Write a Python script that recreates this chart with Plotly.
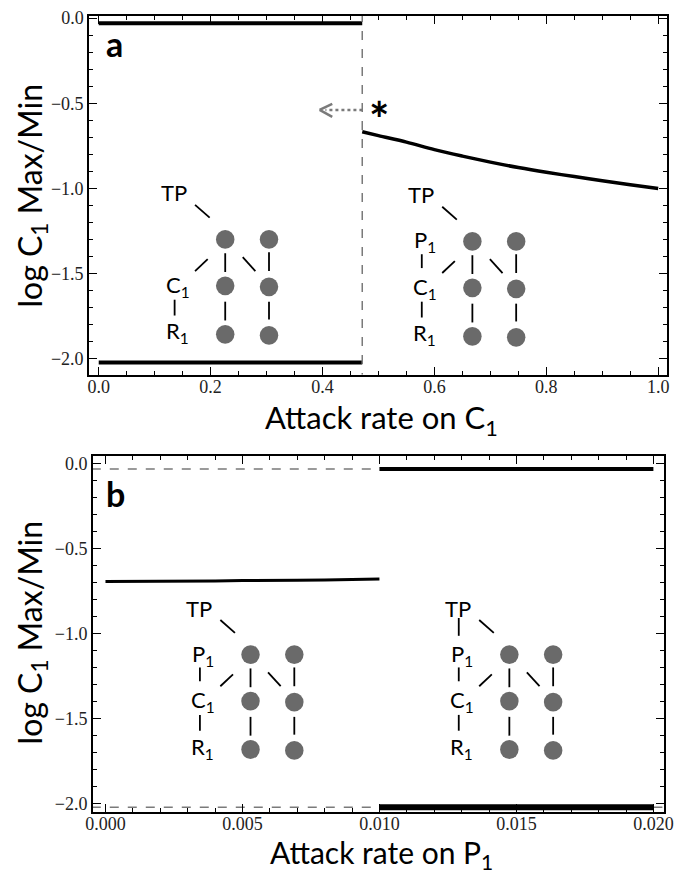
import plotly.graph_objects as go

# The page body keeps its default 8px margin, so the figure is sized to fit the
# 685x888 window without scrollbars and every position is shifted by that margin.
OFF = 8
W, H = 685 - 2 * OFF, 888 - 2 * OFF

# ---------------- data ----------------
# Panel a
a_crit = 0.471
a_left_x = [0.0, 0.471]
a_top_y = [-0.03, -0.03]
a_bot_y = [-2.02, -2.02]
a_curve_x = [0.471, 0.50, 0.55, 0.60, 0.65, 0.70, 0.75, 0.80, 0.85, 0.90, 0.95, 1.00]
a_curve_y = [-0.667, -0.69, -0.728, -0.772, -0.81, -0.845, -0.877, -0.905, -0.93, -0.955, -0.978, -1.0]

# Panel b
b_crit = 0.010
b_low_x = [0.000, 0.001, 0.002, 0.003, 0.004, 0.005, 0.006, 0.007, 0.008, 0.009, 0.010]
b_low_y = [-0.692, -0.692, -0.690, -0.690, -0.689, -0.686, -0.687, -0.684, -0.683, -0.679, -0.678]
b_right_x = [0.010, 0.020]
b_top_y = [-0.03, -0.03]
b_bot_y = [-2.02, -2.02]
b_dash_x = [-0.0005, 0.010]
b_dash_x2 = [0.020, 0.0204]

a_xticks = [0, 0.2, 0.4, 0.6, 0.8, 1.0]
b_xticks = [0, 0.005, 0.01, 0.015, 0.02]
yticks = [0, -0.5, -1.0, -1.5, -2.0]

# ---------------- figure ----------------
fig = go.Figure()

black = "#000000"
gray = "#7a7a7a"
node = "#6a6a6a"

fig.add_trace(go.Scatter(x=a_left_x, y=a_top_y, mode="lines", line=dict(color=black, width=4), xaxis="x", yaxis="y"))
fig.add_trace(go.Scatter(x=a_left_x, y=a_bot_y, mode="lines", line=dict(color=black, width=4), xaxis="x", yaxis="y"))
fig.add_trace(go.Scatter(x=a_curve_x, y=a_curve_y, mode="lines", line=dict(color=black, width=3.5, shape="spline"), xaxis="x", yaxis="y"))
fig.add_trace(go.Scatter(x=[a_crit, a_crit], y=[0.03, -2.093], mode="lines", line=dict(color=gray, width=1.5, dash="dash"), xaxis="x", yaxis="y"))

fig.add_trace(go.Scatter(x=b_dash_x, y=b_top_y, mode="lines", line=dict(color=gray, width=1.5, dash="dash"), xaxis="x2", yaxis="y2"))
fig.add_trace(go.Scatter(x=b_dash_x, y=b_bot_y, mode="lines", line=dict(color=gray, width=1.5, dash="dash"), xaxis="x2", yaxis="y2"))
fig.add_trace(go.Scatter(x=b_dash_x2, y=b_bot_y, mode="lines", line=dict(color=gray, width=1.5, dash="dash"), xaxis="x2", yaxis="y2"))
fig.add_trace(go.Scatter(x=b_low_x, y=b_low_y, mode="lines", line=dict(color=black, width=3), xaxis="x2", yaxis="y2"))
fig.add_trace(go.Scatter(x=b_right_x, y=b_top_y, mode="lines", line=dict(color=black, width=4), xaxis="x2", yaxis="y2"))
fig.add_trace(go.Scatter(x=b_right_x, y=b_bot_y, mode="lines", line=dict(color=black, width=6), xaxis="x2", yaxis="y2"))

tickfont = dict(family="Liberation Serif", size=18, color="#222222")
common = dict(showline=True, linecolor=black, linewidth=1.5, mirror="allticks", ticks="inside",
              ticklen=8, tickwidth=1.3, tickcolor=black, showgrid=False, zeroline=False,
              tickfont=tickfont, ticklabeloverflow="allow")


def fx(px):
    return (px - OFF) / W


def fy(py):
    return 1 - (py - OFF) / H


fig.update_layout(
    width=W, height=H, margin=dict(l=0, r=0, t=0, b=0),
    plot_bgcolor="white", paper_bgcolor="white", showlegend=False,
    xaxis=dict(domain=[fx(83), 1.0], range=[-0.0174, 1.0157], anchor="y",
               tickvals=a_xticks, tickformat=".1f", ticklabelstandoff=-5,
               minor=dict(dtick=0.05, tick0=0, ticks="inside", ticklen=4, tickcolor=black, tickwidth=1), **common),
    yaxis=dict(domain=[fy(371), 1.0], range=[-2.093, 0.012], anchor="x",
               tickvals=yticks, tickformat=".1f",
               minor=dict(dtick=0.1, tick0=0, ticks="inside", ticklen=4, tickcolor=black, tickwidth=1), **common),
    xaxis2=dict(domain=[fx(87), fx(674)], range=[-0.00046, 0.02039], anchor="y2",
                tickvals=b_xticks, tickformat=".3f", ticklabelstandoff=-5,
                minor=dict(dtick=0.001, tick0=0, ticks="inside", ticklen=4, tickcolor=black, tickwidth=1), **common),
    yaxis2=dict(domain=[fy(813), fy(453)], range=[-2.047, 0.047], anchor="x2",
                tickvals=yticks, tickformat=".1f",
                minor=dict(dtick=0.1, tick0=0, ticks="inside", ticklen=4, tickcolor=black, tickwidth=1), **common),
)

annotations = []
shapes = []


def text(px, py, s, size=22, bold=False, family="Lato", color=black, angle=0):
    annotations.append(dict(x=fx(px), y=fy(py), xref="paper", yref="paper",
                            text=("<b>%s</b>" % s) if bold else s, textangle=angle,
                            showarrow=False, xanchor="center", yanchor="middle",
                            font=dict(family=family, size=size, color=color)))


def seg(p0x, p0y, p1x, p1y, color=black, width=1.8, dash=None):
    ln = dict(color=color, width=width)
    if dash:
        ln["dash"] = dash
    shapes.append(dict(type="line", xref="paper", yref="paper",
                       x0=fx(p0x), y0=fy(p0y), x1=fx(p1x), y1=fy(p1y), line=ln))


def circ(cx, cy, r=9.5):
    shapes.append(dict(type="circle", xref="paper", yref="paper",
                       x0=fx(cx - r), y0=fy(cy + r), x1=fx(cx + r), y1=fy(cy - r),
                       fillcolor=node, line=dict(color=node, width=0)))


def diagram(ax, ay, has_p=False, tp_p=False):
    text(ax - 53, ay - 47, "TP")
    seg(ax - 31, ay - 35, ax - 16, ay - 22)
    if has_p:
        text(ax - 49, ay, "P<sub>1</sub>")
        seg(ax - 52, ay + 13, ax - 52, ay + 27)
    if tp_p:
        seg(ax - 52, ay - 37, ax - 52, ay - 19)
    text(ax - 49, ay + 47, "C<sub>1</sub>")
    seg(ax - 52, ay + 61, ax - 52, ay + 77)
    text(ax - 49, ay + 94, "R<sub>1</sub>")
    for dx, dys in ((0, (0, 47, 96)), (45, (0, 48, 97))):
        for dy in dys:
            circ(ax + dx, ay + dy)
    seg(ax, ay + 14, ax, ay + 33)
    seg(ax, ay + 63, ax, ay + 82)
    seg(ax + 45, ay + 13, ax + 45, ay + 32)
    seg(ax + 45, ay + 63, ax + 45, ay + 81)
    seg(ax - 18, ay + 20, ax - 31, ay + 32)
    seg(ax + 18, ay + 18, ax + 31, ay + 32)


diagram(223, 234)
diagram(477, 236, has_p=True)
diagram(249, 654, has_p=True)
diagram(515, 654, has_p=True, tp_p=True)

# panel labels
text(109, 36, "a", size=34, bold=True)
text(110, 491, "b", size=34, bold=True)

# asterisk and arrow
text(381, 112, "*", size=48, bold=True)
seg(364, 103, 326, 103, color=gray, width=2.5, dash="dot")
seg(320, 103, 333, 97, color=gray, width=2.5)
seg(320, 103, 333, 110, color=gray, width=2.5)

# axis titles
text(384, 416, "Attack rate on C<sub>1</sub>", size=31)
text(384, 856, "Attack rate on P<sub>1</sub>", size=30)
text(24, 190, "log C<sub>1</sub> Max/Min", size=32, angle=-90)
text(24, 632, "log C<sub>1</sub> Max/Min", size=32, angle=-90)

fig.update_layout(annotations=annotations, shapes=shapes)
fig.write_html("out.html")
